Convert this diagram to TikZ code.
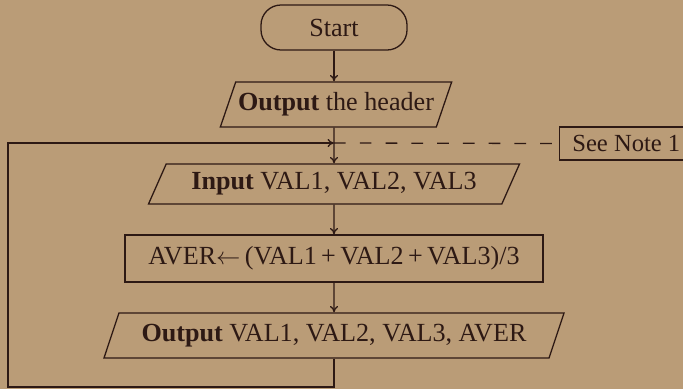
\documentclass[tikz,border=0pt]{standalone}
\usepackage{fontspec}
\setmainfont{Liberation Serif}
\usetikzlibrary{shapes.geometric}
\usetikzlibrary{arrows.meta}
\definecolor{paper}{RGB}{186,156,119}
\definecolor{ink}{RGB}{45,25,20}
\newcommand{\kw}[1]{\textbf{#1}}
\tikzset{
  boxfont/.style = {font=\fontsize{22.3}{26}\selectfont, text=ink},
  terminal/.style = {boxfont, draw=ink, rectangle, rounded corners=0.6cm, minimum width=4.38cm, minimum height=1.35cm},
  iobox/.style = {boxfont, draw=ink, trapezium, trapezium stretches body, trapezium left angle=#1, trapezium right angle=180-#1, inner xsep=2pt},
  procbox/.style = {boxfont, draw=ink, rectangle, minimum width=12.54cm, minimum height=1.41cm},
  notebox/.style = {boxfont, font=\fontsize{21}{25}\selectfont, draw=ink, rectangle, minimum height=0.99cm, inner xsep=0.38cm},
  flow/.style = {draw=ink, line width=1.1pt, -{To[length=5.5pt,width=7pt]}},
}

\begin{document}
\begin{tikzpicture}[x=0.03cm, y=-0.03cm, line width=1.1pt]
\useasboundingbox (0,0) rectangle (683,389);
\fill[paper] (0,0) rectangle (683,389);
\clip (0,0) rectangle (683,389);
% the boxes
\node[terminal] (start) at (334,27.5) {Start};
\node[iobox=64, minimum width=6.87cm, minimum height=1.35cm] (header) at (336,104.5) {\kw{Output} the header};
\node[iobox=60, minimum width=11.13cm, minimum height=1.2cm] (input) at (334,184) {\kw{Input} VAL1, VAL2, VAL3};
\node[procbox] (aver) at (334,258.5) {AVER$\leftarrow$\,(VAL1\,+\,VAL2\,+\,VAL3)/3};
\node[iobox=64, minimum width=13.8cm, minimum height=1.35cm] (output) at (334,335.5) {\kw{Output} VAL1, VAL2, VAL3, AVER};
\node[notebox, anchor=west] (note) at (559,143.5) {See Note 1\hspace*{0.6cm}};
% loop points
\coordinate (join) at (334,143);
\coordinate (corner) at (8,387);
% connectors
\draw[flow] (start) -- (start |- header.north);
\draw[flow] (start |- header.south) -- (input);
\draw[flow] (input) -- (aver);
\draw[flow] (aver) -- (output);
\draw[flow] (output.south) |- (corner) |- (join);
\draw[ink, dash pattern=on 10pt off 12pt] (join) -- (note.west);
\end{tikzpicture}
\end{document}
